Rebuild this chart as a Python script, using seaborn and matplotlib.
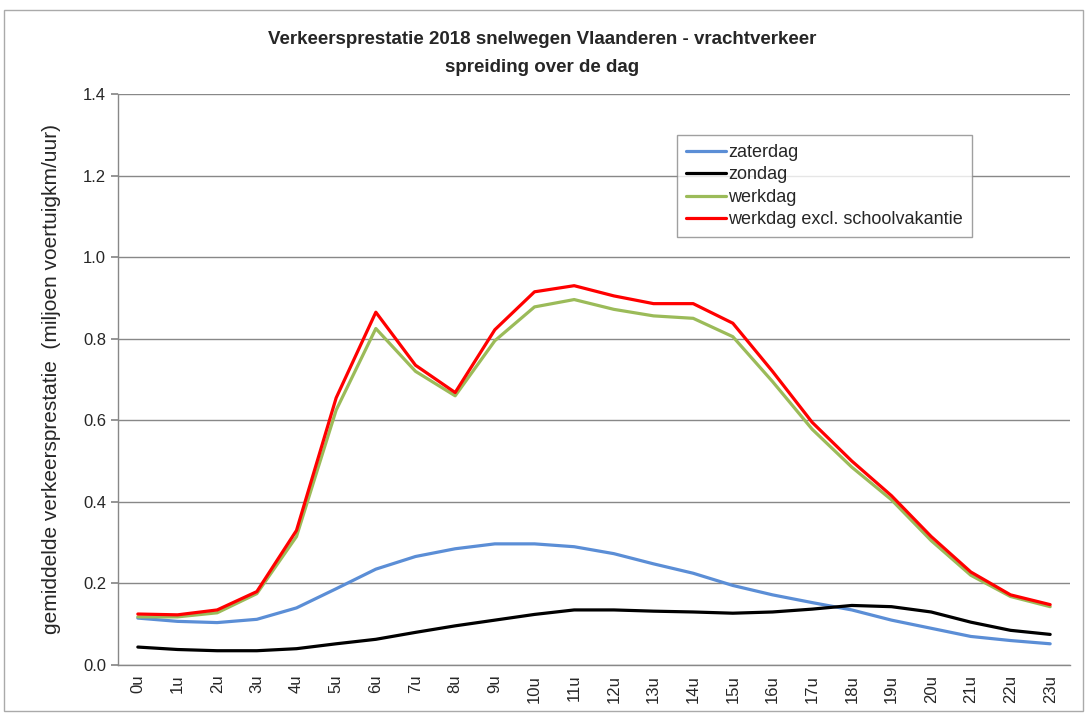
import numpy as np
import pandas as pd
import matplotlib
matplotlib.use("Agg")
import matplotlib.pyplot as plt
import seaborn as sns

hours = [f"{h}u" for h in range(24)]

zaterdag = [0.115, 0.107, 0.104, 0.112, 0.140, 0.187, 0.235, 0.266, 0.285, 0.297, 0.297, 0.290,
            0.273, 0.248, 0.225, 0.195, 0.172, 0.153, 0.135, 0.110, 0.090, 0.070, 0.060, 0.052]
zondag = [0.044, 0.038, 0.035, 0.035, 0.040, 0.052, 0.063, 0.080, 0.096, 0.110, 0.124, 0.135,
          0.135, 0.132, 0.130, 0.127, 0.130, 0.137, 0.146, 0.143, 0.130, 0.105, 0.085, 0.075]
werkdag = [0.118, 0.118, 0.128, 0.175, 0.315, 0.625, 0.825, 0.720, 0.660, 0.795, 0.878, 0.896,
           0.872, 0.856, 0.850, 0.805, 0.695, 0.578, 0.485, 0.405, 0.305, 0.220, 0.168, 0.143]
werkdag_excl = [0.125, 0.123, 0.135, 0.180, 0.330, 0.655, 0.865, 0.735, 0.668, 0.822, 0.915, 0.930,
                0.905, 0.886, 0.886, 0.838, 0.720, 0.595, 0.500, 0.415, 0.315, 0.228, 0.172, 0.148]

series_names = ["zaterdag", "zondag", "werkdag", "werkdag excl. schoolvakantie"]
series_values = [zaterdag, zondag, werkdag, werkdag_excl]
colors = ["#5B8ED6", "#000000", "#9BBB59", "#FF0000"]

rows = []
for name, vals in zip(series_names, series_values):
    for i, v in enumerate(vals):
        rows.append({"uur": i, "waarde": v, "reeks": name})
df = pd.DataFrame(rows)

sns.set_theme(style="white")
plt.rcParams["font.family"] = ["Liberation Sans", "DejaVu Sans"]

fig = plt.figure(figsize=(10.85, 7.13), dpi=100)
ax = fig.add_axes([118 / 1085, 1 - 665 / 713, (1070 - 118) / 1085, (665 - 94) / 713])

sns.lineplot(data=df, x="uur", y="waarde", hue="reeks", hue_order=series_names,
             palette=dict(zip(series_names, colors)), linewidth=2.3, ax=ax)

ax.set_xlim(-0.5, 23.5)
ax.set_ylim(0, 1.4)
ax.set_yticks(np.arange(0, 1.41, 0.2))
ax.set_yticklabels([f"{v:.1f}" for v in np.arange(0, 1.41, 0.2)], fontsize=12)
ax.set_xticks(range(24))
ax.set_xticklabels(hours, rotation=90, fontsize=12)
ax.set_xticks(np.arange(-0.5, 24, 1), minor=True)
ax.tick_params(axis="x", which="major", length=0, pad=7)
ax.tick_params(axis="x", which="minor", length=5, color="#888888", direction="out")
ax.tick_params(axis="y", length=5, color="#888888", direction="out", left=True)
ax.grid(axis="y", color="#888888", linewidth=1)
ax.set_axisbelow(True)
for s in ["top", "right"]:
    ax.spines[s].set_visible(False)
for s in ["left", "bottom"]:
    ax.spines[s].set_color("#888888")
    ax.spines[s].set_linewidth(1)

ax.set_xlabel("")
ax.set_ylabel("gemiddelde verkeersprestatie  (miljoen voertuigkm/uur)", fontsize=15, labelpad=16)

leg = ax.legend(loc="upper left", bbox_to_anchor=((677 - 118) / 952, 1 - (135 - 94) / 571),
                borderaxespad=0, frameon=True, fancybox=False, fontsize=13, handlelength=2.2,
                handletextpad=0.15, borderpad=0.5, labelspacing=0.3)
leg.get_frame().set_edgecolor("#888888")
leg.get_frame().set_linewidth(1)
for line in leg.get_lines():
    line.set_linewidth(2.3)

fig.text(0.5, 1 - 40 / 713, "Verkeersprestatie 2018 snelwegen Vlaanderen - vrachtverkeer",
         ha="center", va="center", fontsize=13.5, fontweight="bold")
fig.text(0.5, 1 - 68 / 713, "spreiding over de dag",
         ha="center", va="center", fontsize=13.5, fontweight="bold")

border = plt.Rectangle((4 / 1085, 2 / 713), 1 - 6 / 1085, 1 - 12 / 713, transform=fig.transFigure,
                       fill=False, edgecolor="#AAAAAA", linewidth=1)
fig.patches.append(border)

fig.savefig("out.png", dpi=100)
